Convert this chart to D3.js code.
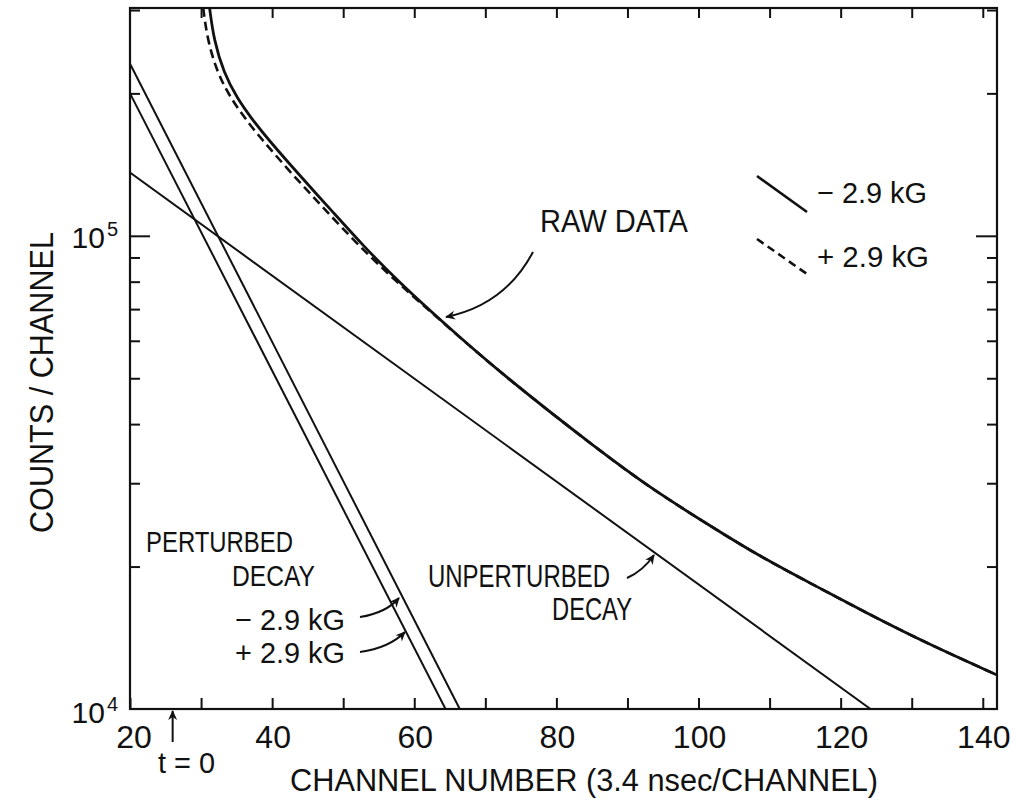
<!DOCTYPE html>
<html>
<head>
<meta charset="utf-8">
<script src="https://cdn.jsdelivr.net/npm/d3@7"></script>
<style>
  html, body { margin: 0; padding: 0; background: #fff; }
  svg { display: block; }
  text { font-family: "Liberation Sans", Arial, sans-serif; fill: #111; }
</style>
</head>
<body>
<svg id="chart" width="1018" height="800"></svg>
<script>
// ---------------- data ----------------
const xTicksMajor = [20, 40, 60, 80, 100, 120, 140];
const xTicksAll = [20, 30, 40, 50, 60, 70, 80, 90, 100, 110, 120, 130, 140];
const yTicksMajor = [1e4, 1e5];
const yTicksMinor = [2e4, 3e4, 4e4, 5e4, 6e4, 7e4, 8e4, 9e4, 2e5, 3e5];
const yTickLabels = [{ base: "10", exp: "4", v: 1e4 }, { base: "10", exp: "5", v: 1e5 }];

// raw data, -2.9 kG (solid)
const rawMinusChannels = [31.2, 31.8, 33.2, 35.1, 37.2, 39.3, 44.0, 48.2, 52.8, 58.0, 64.1, 72.1, 86.2, 93.7, 100.3, 108.2, 116.2, 123.7, 132.1, 142.0];
const rawMinusCounts   = [3.03e5, 2.594e5, 2.208e5, 1.950e5, 1.762e5, 1.607e5, 1.335e5, 1.138e5, 9.53e4, 7.94e4, 6.55e4, 5.13e4, 3.50e4, 2.90e4, 2.51e4, 2.117e4, 1.829e4, 1.594e4, 1.377e4, 1.18e4];
// raw data, +2.9 kG (dashed)
const rawPlusChannels = [30.3, 30.9, 32.3, 34.2, 36.3, 38.4, 43.1, 47.4, 52.2, 57.7, 64.1, 72.1, 86.2, 93.7, 100.3, 108.2, 116.2, 123.7, 132.1, 142.0];
const rawPlusCounts   = [3.03e5, 2.594e5, 2.208e5, 1.950e5, 1.762e5, 1.607e5, 1.335e5, 1.138e5, 9.53e4, 7.94e4, 6.55e4, 5.13e4, 3.50e4, 2.90e4, 2.51e4, 2.117e4, 1.829e4, 1.594e4, 1.377e4, 1.18e4];

// fitted decays (straight on log scale)
const pertMinusChannels = [20, 66.4];
const pertMinusCounts   = [2.31e5, 1.0e4];
const pertPlusChannels  = [20, 64.4];
const pertPlusCounts    = [2.0e5, 1.0e4];
const unpertChannels    = [20, 124.2];
const unpertCounts      = [1.36e5, 1.0e4];

const tZeroChannel = 26;

// ---------------- layout ----------------
const svg = d3.select("#chart");
const L = 130, R = 997, T = 8, B = 709;
const x = d3.scaleLinear().domain([20, 142]).range([L, R]);
const y = d3.scaleLog().domain([1e4, 3.03e5]).range([B, T]);
const ink = "#111";

svg.append("defs").append("clipPath").attr("id", "plot")
  .append("rect").attr("x", L).attr("y", T).attr("width", R - L).attr("height", B - T);

svg.append("defs").append("marker")
  .attr("id", "ah").attr("viewBox", "0 0 10 10").attr("refX", 9).attr("refY", 5)
  .attr("markerWidth", 14).attr("markerHeight", 10).attr("markerUnits", "userSpaceOnUse")
  .attr("orient", "auto")
  .append("path").attr("d", "M0,0.5 L10,5 L0,9.5 L3,5 Z").attr("fill", ink);

// ---------------- axes ----------------
function styleAxis(g) {
  g.select(".domain").remove();
  g.selectAll(".tick line").attr("stroke", ink).attr("stroke-width", 2);
  g.selectAll(".tick text").remove();
}
svg.append("g").attr("transform", `translate(0,${B})`)
  .call(d3.axisTop(x).tickValues(xTicksAll).tickSize(11).tickSizeOuter(0)).call(styleAxis);
svg.append("g").attr("transform", `translate(0,${T})`)
  .call(d3.axisBottom(x).tickValues(xTicksAll.slice(1)).tickSize(10).tickSizeOuter(0)).call(styleAxis);
svg.append("g").attr("transform", `translate(${L},0)`)
  .call(d3.axisRight(y).tickValues(yTicksMinor).tickSize(10).tickSizeOuter(0)).call(styleAxis);
svg.append("g").attr("transform", `translate(${L},0)`)
  .call(d3.axisRight(y).tickValues(yTicksMajor.slice(1)).tickSize(20).tickSizeOuter(0)).call(styleAxis);
svg.append("g").attr("transform", `translate(${R},0)`)
  .call(d3.axisLeft(y).tickValues(yTicksMinor).tickSize(10).tickSizeOuter(0)).call(styleAxis);
svg.append("g").attr("transform", `translate(${R},0)`)
  .call(d3.axisLeft(y).tickValues(yTicksMajor.slice(1)).tickSize(21).tickSizeOuter(0)).call(styleAxis);

svg.append("rect").attr("x", L).attr("y", T).attr("width", R - L).attr("height", B - T)
  .attr("fill", "none").attr("stroke", ink).attr("stroke-width", 2.2);

svg.append("g").selectAll("text").data(xTicksMajor).join("text")
  .attr("x", (d, i) => x(d) + (i === 0 ? 4 : 1))
  .attr("y", 748).attr("text-anchor", "middle").attr("font-size", 32)
  .text(d => d);

const yl = svg.append("g").selectAll("text").data(yTickLabels).join("text")
  .attr("x", 118).attr("y", d => y(d.v) + (d.v === 1e4 ? 14 : 12))
  .attr("text-anchor", "end").attr("font-size", 30);
yl.append("tspan").text(d => d.base);
yl.append("tspan").attr("font-size", 20).attr("dy", -12).attr("dx", 2).text(d => d.exp);

svg.append("text").attr("x", 290).attr("y", 791).attr("font-size", 31)
  .attr("textLength", 588).attr("lengthAdjust", "spacingAndGlyphs")
  .text("CHANNEL NUMBER  (3.4 nsec/CHANNEL)");
svg.append("text").attr("transform", "translate(53,533) rotate(-90)").attr("font-size", 33)
  .attr("textLength", 301).attr("lengthAdjust", "spacingAndGlyphs")
  .text("COUNTS / CHANNEL");

// ---------------- series ----------------
const plot = svg.append("g").attr("clip-path", "url(#plot)");
const zip = (xs, ys) => xs.map((c, i) => [c, ys[i]]);
const curved = d3.line().x(d => x(d[0])).y(d => y(d[1])).curve(d3.curveBasis);
const straight = d3.line().x(d => x(d[0])).y(d => y(d[1]));

plot.append("path").datum(zip(unpertChannels, unpertCounts)).attr("d", straight)
  .attr("fill", "none").attr("stroke", ink).attr("stroke-width", 2);
plot.append("path").datum(zip(pertMinusChannels, pertMinusCounts)).attr("d", straight)
  .attr("fill", "none").attr("stroke", ink).attr("stroke-width", 2);
plot.append("path").datum(zip(pertPlusChannels, pertPlusCounts)).attr("d", straight)
  .attr("fill", "none").attr("stroke", ink).attr("stroke-width", 2);
plot.append("path").datum(zip(rawPlusChannels, rawPlusCounts)).attr("d", curved)
  .attr("fill", "none").attr("stroke", ink).attr("stroke-width", 2.6).attr("stroke-dasharray", "9,5");
plot.append("path").datum(zip(rawMinusChannels, rawMinusCounts)).attr("d", curved)
  .attr("fill", "none").attr("stroke", ink).attr("stroke-width", 2.8);

// ---------------- legend ----------------
svg.append("line").attr("x1", 757).attr("y1", 176).attr("x2", 807).attr("y2", 212)
  .attr("stroke", ink).attr("stroke-width", 2.6);
svg.append("line").attr("x1", 757).attr("y1", 239).attr("x2", 807).attr("y2", 274)
  .attr("stroke", ink).attr("stroke-width", 2.6).attr("stroke-dasharray", "8,5");
svg.append("text").attr("x", 817).attr("y", 203).attr("font-size", 30)
  .attr("textLength", 110).attr("lengthAdjust", "spacingAndGlyphs").text("− 2.9 kG");
svg.append("text").attr("x", 817).attr("y", 267).attr("font-size", 30)
  .attr("textLength", 112).attr("lengthAdjust", "spacingAndGlyphs").text("+ 2.9 kG");

// ---------------- annotations ----------------
function label(txt, x0, x1, base, fs) {
  svg.append("text").attr("x", x0).attr("y", base).attr("font-size", fs)
    .attr("textLength", x1 - x0).attr("lengthAdjust", "spacingAndGlyphs").text(txt);
}
function arrow(d) {
  svg.append("path").attr("d", d).attr("fill", "none").attr("stroke", ink)
    .attr("stroke-width", 2).attr("marker-end", "url(#ah)");
}
label("RAW DATA", 540, 688, 232, 32);
arrow("M533,252 Q505,305 446,317");

label("PERTURBED", 146, 293, 552, 29);
label("DECAY", 232, 315, 586, 29);
label("− 2.9 kG", 235, 345, 630, 30);
label("+ 2.9 kG", 235, 345, 663, 30);
arrow("M360,617 Q386,613 399,598");
arrow("M360,652 Q389,648 405,632");

label("UNPERTURBED", 428, 610, 587, 32);
label("DECAY", 552, 632, 620, 32);
arrow("M627,578 Q643,571 654,555");

const tx = x(tZeroChannel);
arrow(`M${tx},742 L${tx},711`);
label("t = 0", 158, 215, 773, 30);
</script>
</body>
</html>
